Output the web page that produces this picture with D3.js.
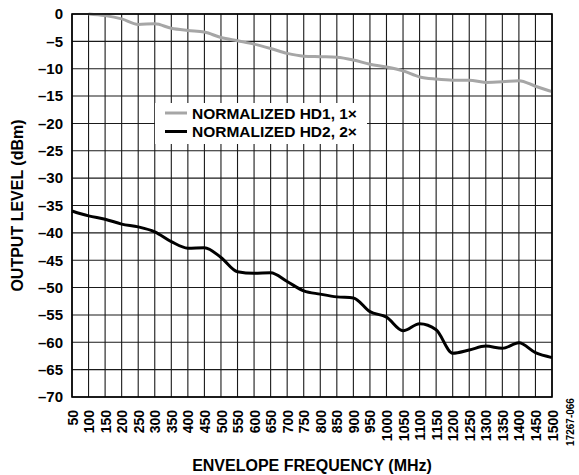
<!DOCTYPE html>
<html>
<head>
<meta charset="utf-8">
<script src="https://cdn.jsdelivr.net/npm/d3@7"></script>
<style>
  html, body { margin: 0; padding: 0; background: #fff; }
  svg { display: block; }
  text { font-family: Arial, "Liberation Sans", sans-serif; font-weight: bold; fill: #000; }
</style>
</head>
<body>
<svg id="chart" width="579" height="475"></svg>
<script>
// Envelope frequency axis (MHz)
const freqTicks = d3.range(50, 1501, 50);
const levelTicks = d3.range(0, -71, -5);

// Normalized HD1 (1×), starts at 100 MHz
const hd1Freq = d3.range(100, 1501, 50);
const hd1Level = [0, -0.3, -0.9, -1.9, -1.8, -2.6, -3.0, -3.3, -4.3, -4.9, -5.5, -6.3, -7.2,
  -7.7, -7.8, -7.9, -8.4, -9.2, -9.7, -10.4, -11.5, -11.9, -12.1, -12.1, -12.5, -12.4, -12.2, -13.2, -14.2];

// Normalized HD2 (2×), starts at 50 MHz
const hd2Freq = d3.range(50, 1501, 50);
const hd2Level = [-36.0, -36.9, -37.5, -38.4, -38.9, -39.8, -41.6, -42.8, -42.7, -44.5, -47.1, -47.4, -47.3, -48.9,
  -50.6, -51.2, -51.7, -51.9, -54.4, -55.4, -57.9, -56.6, -57.7, -62.0, -61.4, -60.7, -61.1, -60.1, -61.9, -62.8];

const seriesNames = ["NORMALIZED HD1, 1×", "NORMALIZED HD2, 2×"];
const seriesColors = ["#a6a6a6", "#000000"];

const svg = d3.select("#chart");
const m = { left: 72, top: 14, right: 552, bottom: 397 };

const x = d3.scaleLinear().domain([50, 1500]).range([m.left, m.right]);
const y = d3.scaleLinear().domain([-70, 0]).range([m.bottom, m.top]);

const fmt = v => (v < 0 ? "\u2013" + Math.abs(v) : String(v));
const FONT = "Arial, 'Liberation Sans', sans-serif";

// grid
const grid = svg.append("g").attr("stroke", "#1a1a1a").attr("stroke-width", 1.1);
grid.selectAll("line.v").data(freqTicks).join("line")
  .attr("x1", d => x(d)).attr("x2", d => x(d))
  .attr("y1", m.top).attr("y2", m.bottom);
grid.selectAll("line.h").data(levelTicks).join("line")
  .attr("x1", m.left).attr("x2", m.right)
  .attr("y1", d => y(d)).attr("y2", d => y(d));

// legend background box covers the grid
const lg = svg.append("g");
lg.append("rect").attr("x", 155).attr("y", 103).attr("width", 212).attr("height", 41).attr("fill", "#fff");

// data lines
const line = d3.line().x(d => x(d[0])).y(d => y(d[1])).curve(d3.curveMonotoneX);
svg.append("path").datum(d3.zip(hd1Freq, hd1Level))
  .attr("d", line).attr("fill", "none").attr("stroke", seriesColors[0]).attr("stroke-width", 3);
svg.append("path").datum(d3.zip(hd2Freq, hd2Level))
  .attr("d", line).attr("fill", "none").attr("stroke", seriesColors[1]).attr("stroke-width", 3);

// frame
svg.append("rect").attr("x", m.left).attr("y", m.top)
  .attr("width", m.right - m.left).attr("height", m.bottom - m.top)
  .attr("fill", "none").attr("stroke", "#000").attr("stroke-width", 1.6);

// legend entries
seriesNames.forEach((name, i) => {
  const ly = 113 + i * 18.5;
  lg.append("line").attr("x1", 165).attr("x2", 187).attr("y1", ly).attr("y2", ly)
    .attr("stroke", seriesColors[i]).attr("stroke-width", 3);
  lg.append("text").attr("x", 192).attr("y", ly).attr("dy", "0.36em")
    .attr("font-size", 15.5).text(name);
});

// y axis labels
const yAxis = d3.axisLeft(y).tickValues(levelTicks).tickSize(0).tickPadding(9).tickFormat(fmt);
const ya = svg.append("g").attr("transform", `translate(${m.left},0)`).call(yAxis);
ya.select(".domain").remove();
ya.selectAll("text").attr("font-size", 15).attr("font-family", FONT)
  .attr("font-weight", "bold").attr("fill", "#000");

// x axis labels, rotated
const xAxis = d3.axisBottom(x).tickValues(freqTicks).tickSize(0).tickPadding(0).tickFormat(d => String(d));
const xa = svg.append("g").attr("transform", `translate(0,${m.bottom})`).call(xAxis);
xa.select(".domain").remove();
xa.selectAll("text")
  .attr("font-size", 14).attr("font-family", FONT)
  .attr("font-weight", "bold").attr("fill", "#000")
  .attr("text-anchor", "end")
  .attr("transform", "rotate(-90)")
  .attr("x", -13).attr("y", 0).attr("dy", "0.36em");

// axis titles
svg.append("text").attr("x", (m.left + m.right) / 2).attr("y", 471)
  .attr("text-anchor", "middle").attr("font-size", 16).text("ENVELOPE FREQUENCY (MHz)");
svg.append("text").attr("transform", `translate(23,${(m.top + m.bottom) / 2}) rotate(-90)`)
  .attr("text-anchor", "middle").attr("font-size", 16).text("OUTPUT LEVEL (dBm)");

// figure id
svg.append("text").attr("transform", "translate(574,422) rotate(-90)")
  .attr("text-anchor", "middle").attr("font-size", 10).attr("font-weight", "normal")
  .attr("fill", "#222").text("17267-066");
</script>
</body>
</html>
